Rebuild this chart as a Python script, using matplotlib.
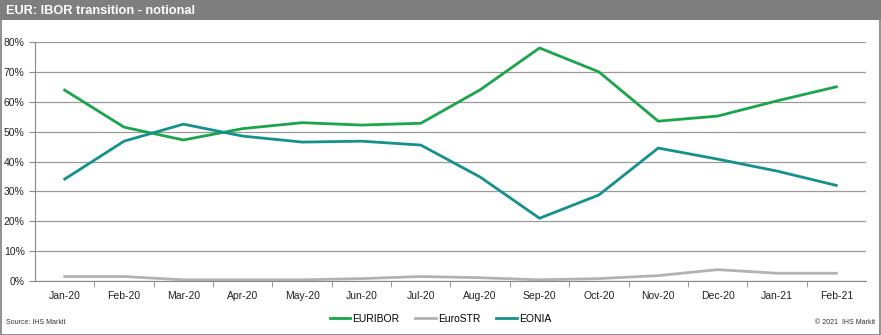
import matplotlib.pyplot as plt
from matplotlib.patches import Rectangle

plt.rcParams['font.family'] = ['Liberation Sans', 'DejaVu Sans']

months = ["Jan-20", "Feb-20", "Mar-20", "Apr-20", "May-20", "Jun-20", "Jul-20",
          "Aug-20", "Sep-20", "Oct-20", "Nov-20", "Dec-20", "Jan-21", "Feb-21"]
euribor = [63.9, 51.5, 47.2, 51.0, 53.0, 52.2, 52.8, 64.0, 78.0, 70.0, 53.5, 55.2, 60.3, 65.0]
eurostr = [1.5, 1.5, 0.4, 0.4, 0.4, 0.8, 1.5, 1.1, 0.4, 0.8, 1.8, 3.8, 2.6, 2.6]
eonia = [34.1, 46.8, 52.5, 48.5, 46.5, 46.8, 45.5, 34.8, 21.0, 28.8, 44.5, 40.8, 36.8, 32.0]

W, H = 881, 335
fig = plt.figure(figsize=(W / 100, H / 100), dpi=100)

# title bar and outer frame
fig.patches.append(Rectangle((0, 1 - 20 / H), 1, 20 / H, transform=fig.transFigure,
                             facecolor="#7f7f7f", edgecolor="none", zorder=0))
fig.patches.append(Rectangle((0.5 / W, 0.5 / H), 1 - 1.5 / W, 1 - 1.5 / H, transform=fig.transFigure,
                             facecolor="none", edgecolor="#7f7f7f", lw=1.2, zorder=5))
fig.text(6 / W, 1 - 10.5 / H, "EUR: IBOR transition - notional", color="white",
         fontsize=9.2, fontweight="bold", va="center", ha="left")

ax = fig.add_axes([35 / W, 1 - 281 / H, (866 - 35) / W, (281 - 42) / H])
x = range(len(months))
ax.plot(x, euribor, color="#1aa54b", lw=2, label="EURIBOR")
ax.plot(x, eurostr, color="#b2b2b2", lw=2, label="EuroSTR")
ax.plot(x, eonia, color="#15918d", lw=2, label="EONIA")

ax.set_xlim(-0.5, len(months) - 0.5)
ax.set_ylim(0, 80)
ax.set_yticks(range(0, 81, 10))
ax.set_yticklabels([f"{v}%" for v in range(0, 81, 10)])
ax.set_xticks(list(x))
ax.set_xticklabels(months)
ax.set_xticks([i + 0.5 for i in range(len(months) - 1)], minor=True)
ax.tick_params(axis="x", which="major", length=0, labelsize=7.5, pad=7, colors="#222222")
ax.tick_params(axis="x", which="minor", length=4, color="#888888")
ax.tick_params(axis="y", length=4, labelsize=7.5, colors="#222222", color="#888888")
ax.grid(axis="y", color="#9a9a9a", lw=0.9)
ax.set_axisbelow(True)
for s in ["top", "right"]:
    ax.spines[s].set_visible(False)
ax.spines["left"].set_color("#888888")
ax.spines["bottom"].set_color("#888888")

fig.legend(loc="center", bbox_to_anchor=(0.5, 1 - 319 / H), ncol=3, frameon=False,
           fontsize=7.5, handlelength=2.0, handletextpad=0.2, columnspacing=1.5)
fig.text(6 / W, 1 - 323 / H, "Source: IHS Markit", fontsize=5, va="center", ha="left", color="#333333")
fig.text(1 - 6 / W, 1 - 323 / H, "\u00a9 2021  IHS Markit", fontsize=5, va="center", ha="right", color="#333333")

fig.savefig("out.png", dpi=100)
